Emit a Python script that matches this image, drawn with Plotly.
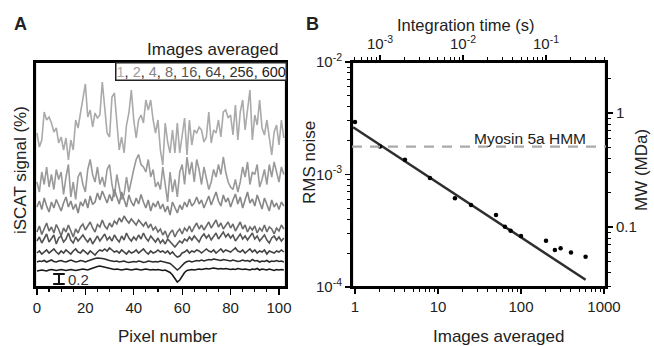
import numpy as np
import plotly.graph_objects as go

# ---------------- Panel A data ----------------
pixel = list(range(103))
images_labels = ["1", "2", "4", "8", "16", "64", "256", "600"]
trace_colors = ["#aaaaaa", "#9a9a9a", "#878787", "#6c6c6c", "#555555", "#424242", "#2c2c2c", "#181818"]

sig_1 = [3.08,2.80,2.94,3.50,3.34,3.40,3.28,3.10,3.18,2.88,
         3.00,2.74,2.98,2.54,2.94,2.74,3.34,3.18,3.48,3.80,
         4.06,3.40,3.54,3.20,3.48,3.38,3.44,4.10,3.60,3.08,
         3.00,3.80,3.88,3.34,2.74,3.00,2.68,3.24,3.48,3.94,
         3.34,2.98,3.34,3.44,3.28,3.74,3.54,3.74,3.34,3.08,
         3.34,2.74,2.44,3.28,2.90,2.68,3.14,2.68,3.28,2.68,
         3.08,3.38,2.64,3.34,2.84,3.14,3.08,3.20,3.14,2.90,
         3.00,3.50,2.88,3.14,3.08,3.34,3.00,3.50,3.54,3.38,
         3.44,3.04,3.64,2.94,3.50,3.74,3.14,3.54,3.94,2.94,
         3.44,3.24,3.74,3.18,3.04,3.34,2.94,2.64,3.10,3.24,
         2.84,3.34,2.98]
sig_2 = [2.10,1.90,2.30,2.05,2.40,2.00,2.25,1.95,2.35,2.15,
         2.30,1.85,2.20,2.45,1.80,2.10,1.75,2.20,2.30,2.05,
         1.90,2.35,2.55,2.25,2.10,2.40,2.05,2.20,2.00,2.35,
         2.45,2.05,1.80,2.25,2.00,1.75,1.85,2.20,1.90,2.15,
         2.35,2.55,2.65,2.45,2.40,2.30,2.55,2.20,2.35,2.00,
         2.10,1.95,2.40,2.05,1.70,2.30,1.90,2.15,1.80,2.30,
         2.45,2.05,2.60,2.25,2.50,2.10,2.55,2.35,2.05,2.40,
         2.20,1.95,2.10,2.35,2.20,2.45,2.25,2.60,2.30,2.10,
         2.00,1.95,2.15,1.90,2.10,2.40,2.20,2.50,2.05,2.30,
         2.25,2.45,2.00,2.15,2.35,2.05,2.45,2.20,2.50,2.30,
         2.10,2.40,2.25]
sig_4 = [1.60,1.72,1.55,1.78,1.62,1.50,1.70,1.58,1.75,1.62,
         1.52,1.68,1.80,1.60,1.72,1.55,1.66,1.48,1.70,1.62,
         1.76,1.58,1.82,1.65,1.70,1.88,1.74,1.92,1.78,1.68,
         1.85,1.72,1.95,1.80,1.66,1.90,1.76,1.60,1.84,1.70,
         1.62,1.78,1.66,1.85,1.70,1.58,1.74,1.52,1.68,1.60,
         1.72,1.56,1.66,1.50,1.62,1.44,1.70,1.58,1.48,1.64,
         1.55,1.70,1.60,1.76,1.62,1.68,1.80,1.66,1.74,1.58,
         1.70,1.82,1.64,1.76,1.90,1.72,1.62,1.84,1.70,1.78,
         1.60,1.74,1.86,1.66,1.80,1.58,1.72,1.90,1.68,1.76,
         1.62,1.84,1.70,1.56,1.78,1.66,1.52,1.74,1.60,1.68,
         1.55,1.70,1.62]
sig_8 = [1.10,1.22,1.05,1.18,1.28,1.12,1.20,1.08,1.25,1.15,
         1.02,1.18,1.10,1.24,1.12,1.00,1.16,1.08,1.20,1.26,
         1.14,1.22,1.30,1.18,1.10,1.25,1.20,1.34,1.22,1.16,
         1.28,1.20,1.32,1.26,1.38,1.30,1.42,1.34,1.28,1.36,
         1.30,1.24,1.34,1.28,1.22,1.30,1.18,1.26,1.14,1.20,
         1.10,1.16,1.04,1.12,0.98,1.08,1.14,1.00,1.10,1.16,
         1.06,1.18,1.12,1.22,1.10,1.20,1.28,1.16,1.24,1.14,
         1.22,1.30,1.18,1.26,1.34,1.20,1.28,1.16,1.24,1.30,
         1.18,1.26,1.12,1.22,1.30,1.16,1.24,1.10,1.20,1.14,
         1.22,1.08,1.18,1.12,1.24,1.10,1.20,1.16,1.06,1.18,
         1.12,1.24,1.16]
sig_16 = [0.92,1.00,0.88,0.98,1.06,0.90,0.96,1.04,0.86,0.98,
          1.02,0.90,0.96,1.08,0.94,0.88,1.00,0.92,0.98,1.04,
          0.96,0.90,0.98,0.86,0.94,1.02,0.92,0.98,1.06,0.94,
          1.00,0.92,1.04,0.96,0.90,1.02,0.94,1.08,0.98,0.92,
          1.00,0.94,1.04,0.96,1.08,0.98,0.92,1.02,0.96,0.90,
          0.98,0.88,0.94,0.86,0.96,0.90,0.84,0.80,0.86,0.92,
          0.88,0.96,0.92,1.00,0.94,1.02,0.96,0.90,1.00,1.06,
          0.98,1.04,0.94,1.00,1.08,0.96,1.02,1.10,1.00,1.06,
          0.98,1.04,0.92,1.00,1.06,0.96,1.02,0.94,1.00,1.08,
          0.96,1.02,0.92,0.98,1.04,0.94,0.88,0.98,1.02,0.94,
          1.00,0.92,0.98]
sig_64 = [0.68,0.72,0.66,0.70,0.74,0.68,0.72,0.76,0.70,0.66,
          0.72,0.68,0.74,0.70,0.66,0.72,0.76,0.70,0.68,0.74,
          0.70,0.66,0.72,0.68,0.64,0.70,0.74,0.72,0.76,0.72,
          0.78,0.74,0.70,0.72,0.68,0.74,0.70,0.66,0.72,0.68,
          0.70,0.74,0.68,0.72,0.76,0.70,0.66,0.72,0.68,0.70,
          0.74,0.70,0.72,0.68,0.72,0.66,0.70,0.64,0.60,0.62,
          0.68,0.70,0.74,0.68,0.72,0.70,0.74,0.72,0.68,0.72,
          0.76,0.72,0.70,0.74,0.68,0.72,0.76,0.70,0.74,0.72,
          0.70,0.74,0.78,0.72,0.70,0.74,0.68,0.72,0.76,0.70,
          0.74,0.68,0.72,0.70,0.74,0.66,0.72,0.70,0.68,0.72,
          0.70,0.74,0.70]
sig_256 = [0.50,0.52,0.51,0.53,0.50,0.52,0.54,0.51,0.50,0.52,
           0.53,0.51,0.50,0.52,0.54,0.52,0.50,0.51,0.53,0.52,
           0.50,0.52,0.54,0.56,0.57,0.58,0.58,0.57,0.56,0.54,
           0.53,0.52,0.51,0.52,0.50,0.51,0.52,0.50,0.49,0.50,
           0.51,0.50,0.52,0.51,0.49,0.50,0.52,0.51,0.50,0.51,
           0.50,0.52,0.51,0.50,0.49,0.47,0.43,0.38,0.34,0.38,
           0.44,0.48,0.51,0.52,0.50,0.52,0.53,0.52,0.54,0.52,
           0.53,0.55,0.54,0.56,0.55,0.54,0.53,0.55,0.54,0.53,
           0.52,0.54,0.53,0.51,0.52,0.54,0.52,0.53,0.51,0.55,
           0.52,0.53,0.50,0.52,0.51,0.53,0.50,0.52,0.51,0.53,
           0.51,0.52,0.50]
sig_600 = [0.32,0.33,0.34,0.33,0.32,0.34,0.35,0.34,0.33,0.34,
           0.35,0.34,0.33,0.34,0.35,0.34,0.33,0.34,0.35,0.36,
           0.35,0.34,0.36,0.38,0.40,0.41,0.42,0.41,0.40,0.38,
           0.37,0.36,0.35,0.36,0.35,0.34,0.35,0.36,0.35,0.34,
           0.35,0.36,0.35,0.34,0.35,0.36,0.35,0.34,0.35,0.34,
           0.35,0.34,0.33,0.34,0.32,0.29,0.24,0.16,0.10,0.14,
           0.22,0.29,0.33,0.34,0.35,0.34,0.35,0.36,0.35,0.36,
           0.37,0.36,0.37,0.38,0.37,0.36,0.37,0.36,0.37,0.36,
           0.35,0.36,0.35,0.37,0.36,0.35,0.36,0.35,0.34,0.36,
           0.35,0.37,0.34,0.36,0.35,0.34,0.36,0.35,0.33,0.35,
           0.34,0.35,0.34]
signals = [sig_1, sig_2, sig_4, sig_8, sig_16, sig_64, sig_256, sig_600]
scale_bar_len = 0.2

# ---------------- Panel B data ----------------
n_images = [1, 2, 4, 8, 16, 25, 50, 64, 75, 100, 200, 256, 300, 400, 600]
rms_noise = [2.93e-3, 1.77e-3, 1.35e-3, 9.3e-4, 6.14e-4, 5.36e-4, 4.37e-4, 3.44e-4,
             3.16e-4, 2.84e-4, 2.58e-4, 2.13e-4, 2.21e-4, 2.03e-4, 1.86e-4]
fit_n = [0.95, 600]
fit_rms = [2.63e-3, 1.16e-4]
frame_time = 5e-4          # s per image
myosin_rms = 1.77e-3
mw_range_log = [-1.526, 0.447]

FONT = "Liberation Sans, Arial, Helvetica, sans-serif"
W, H = 654, 346
fig = go.Figure()

for lab, col, s in zip(images_labels, trace_colors, signals):
    fig.add_trace(go.Scatter(x=pixel[:len(s)], y=s, mode="lines",
                             line=dict(color=col, width=1.6),
                             xaxis="x", yaxis="y", showlegend=False, name=lab))

fig.add_trace(go.Scatter(x=fit_n, y=fit_rms, mode="lines",
                         line=dict(color="#2e2e2e", width=2.5),
                         xaxis="x2", yaxis="y2", showlegend=False))
fig.add_trace(go.Scatter(x=n_images, y=rms_noise, mode="markers",
                         marker=dict(color="black", size=4.5),
                         xaxis="x2", yaxis="y2", showlegend=False))
# invisible traces to activate the top and right axes
t_lo = 10 ** -0.036 * frame_time
fig.add_trace(go.Scatter(x=[t_lo], y=[1e-3], mode="markers", marker=dict(opacity=0),
                         xaxis="x3", yaxis="y2", showlegend=False, hoverinfo="skip"))
fig.add_trace(go.Scatter(x=[1], y=[0.5], mode="markers", marker=dict(opacity=0),
                         xaxis="x2", yaxis="y3", showlegend=False, hoverinfo="skip"))

xdomA = [35 / W, 286 / W]
xdomB = [352 / W, 606 / W]
ydom = [1 - 287 / H, 1 - 62 / H]
axcommon = dict(showline=True, linecolor="black", linewidth=2, showgrid=False, zeroline=False,
                automargin=False, ticks="outside", tickcolor="black", tickwidth=1.3,
                tickfont=dict(family=FONT, size=15, color="#222"))

def minor_log(lo, hi):
    return dict(ticks="outside", ticklen=3, tickcolor="black", tickwidth=1,
                tickvals=[m * 10 ** d for d in range(lo, hi) for m in range(2, 10)])

fig.update_layout(
    template="none",
    width=W, height=H, margin=dict(l=0, r=0, t=0, b=0, pad=0), autosize=False,
    paper_bgcolor="white", plot_bgcolor="rgba(0,0,0,0)", showlegend=False,
    font=dict(family=FONT, color="#222"), hovermode=False,
    xaxis=dict(domain=xdomA, range=[-0.8, 102.9], anchor="y", mirror=True,
               tickvals=[0, 20, 40, 60, 80, 100], ticklen=6,
               minor=dict(ticks="outside", dtick=5, tick0=0, ticklen=3, tickcolor="black", tickwidth=1.1),
               **axcommon),
    yaxis=dict(domain=ydom, range=[0, 4.5], anchor="x", showticklabels=False, ticks="",
               showline=True, linecolor="black", linewidth=2, mirror=True,
               showgrid=False, zeroline=False, automargin=False),
    xaxis2=dict(domain=xdomB, type="log", range=[-0.036, 3.024], anchor="y2",
                tickvals=[1, 10, 100, 1000], ticktext=["1", "10", "100", "1000"], ticklen=5,
                minor=minor_log(0, 3), **axcommon),
    yaxis2=dict(domain=ydom, type="log", range=[-4, -2], anchor="x2",
                tickvals=[1e-4, 1e-3, 1e-2],
                ticktext=["10<sup>-4</sup>", "10<sup>-3</sup>", "10<sup>-2</sup>"], ticklen=5,
                minor=minor_log(-4, -2), **axcommon),
    xaxis3=dict(overlaying="x2", side="top", type="log", anchor="y2",
                range=[np.log10(t_lo), np.log10(10 ** 3.024 * frame_time)],
                tickvals=[1e-3, 1e-2, 1e-1],
                ticktext=["10<sup>-3</sup>", "10<sup>-2</sup>", "10<sup>-1</sup>"], ticklen=5,
                minor=minor_log(-4, 0), **axcommon),
    yaxis3=dict(overlaying="y2", side="right", type="log", anchor="x2", range=mw_range_log,
                tickvals=[0.1, 1], ticktext=["0.1", "1"], ticklen=5,
                minor=minor_log(-2, 1), **axcommon),
)

# frames (paper-referenced, not clipped)
for xd in [xdomA, xdomB]:
    fig.add_shape(type="rect", xref="paper", yref="paper", x0=xd[0], x1=xd[1], y0=ydom[0], y1=ydom[1],
                  line=dict(color="black", width=2.2), fillcolor="rgba(0,0,0,0)", layer="above")

# dashed reference line
fig.add_shape(type="line", xref="x2 domain", yref="y2", x0=0, x1=1, y0=myosin_rms, y1=myosin_rms,
              line=dict(color="#aaaaaa", width=2.2, dash="10px,8px"))

# scale bar in panel A
sb_x, sb_y0 = 9.1, 0.06
for shp in [dict(x0=sb_x, x1=sb_x, y0=sb_y0, y1=sb_y0 + scale_bar_len),
            dict(x0=sb_x - 2.4, x1=sb_x + 2.4, y0=sb_y0, y1=sb_y0),
            dict(x0=sb_x - 2.4, x1=sb_x + 2.4, y0=sb_y0 + scale_bar_len, y1=sb_y0 + scale_bar_len)]:
    fig.add_shape(type="line", xref="x", yref="y", line=dict(color="#111", width=2), **shp)

legend_text = ", ".join(f'<span style="color:{c}">{l}</span>' for l, c in zip(images_labels, trace_colors))

def ann(text, x, y, size=17, xanchor="center", yanchor="middle", **kw):
    fig.add_annotation(text=text, x=x / W, y=1 - y / H, xref="paper", yref="paper",
                       showarrow=False, xanchor=xanchor, yanchor=yanchor,
                       font=dict(family=FONT, size=size, color=kw.pop("color", "#222")), **kw)

ann(f"{scale_bar_len}", 66, 279, size=15, xanchor="left", color="#333")
ann("<b>A</b>", 20, 24, size=18)
ann("<b>B</b>", 312, 24, size=18)
ann("Images averaged", 280, 50, size=17, xanchor="right")
ann(legend_text, 287, 62, size=14.5, xanchor="right", yanchor="top",
    bordercolor="#222", borderwidth=1.5, borderpad=0, bgcolor="white")
ann("Pixel number", 168, 336, size=17)
ann("Images averaged", 498, 336, size=17)
ann("iSCAT signal (%)", 20, 170, size=17, textangle=-90)
ann("RMS noise", 309, 163, size=17, textangle=-90)
ann("MW (MDa)", 641, 170, size=17, textangle=-90)
ann("Integration time (s)", 466, 25, size=16.5)
ann("Myosin 5a HMM", 530, 138, size=15.5)

fig.write_html("out.html", config={"displayModeBar": False, "staticPlot": True},
               post_script="document.body.style.margin='0px';document.body.style.overflow='hidden';")
